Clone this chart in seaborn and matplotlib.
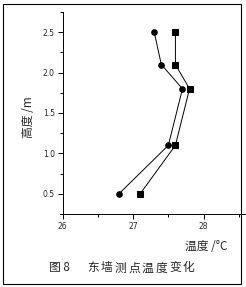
import matplotlib
matplotlib.use("Agg")
import matplotlib.pyplot as plt
import seaborn as sns
import pandas as pd
from matplotlib.patches import Rectangle
from matplotlib.ticker import MultipleLocator

heights = [0.5, 1.1, 1.8, 2.1, 2.5]
temp_circle = [26.8, 27.5, 27.7, 27.4, 27.3]
temp_square = [27.1, 27.6, 27.8, 27.6, 27.6]
series_names = ["circle", "square"]
xticks = [26, 27, 28]
yticks = [0.5, 1.0, 1.5, 2.0, 2.5]
caption_label = "图 8"
caption_title = "东墙测点温度变化"

df = pd.DataFrame({
    "height": heights * 2,
    "temp": temp_circle + temp_square,
    "series": [series_names[0]] * len(heights) + [series_names[1]] * len(heights),
})

sns.set_style("ticks")
plt.rcParams['font.family'] = ['Noto Sans CJK SC', 'DejaVu Sans']

W, H = 246, 287
fig = plt.figure(figsize=(W / 100, H / 100), dpi=100)
ax = fig.add_axes([62.5 / W, 73 / H, (W - 62.5) / W, (214 - 12) / H])

sns.lineplot(data=df, x="temp", y="height", hue="series", style="series",
             markers={"circle": "o", "square": "s"}, dashes=False,
             palette={"circle": "black", "square": "black"},
             sort=False, estimator=None, linewidth=0.7, markersize=4,
             markeredgecolor="black", legend=False, ax=ax)

ax.set_xlim(26, 28.6)
ax.set_ylim(0.25, 2.75)
ax.set_xticks(xticks)
ax.set_yticks(yticks)
ax.xaxis.set_minor_locator(MultipleLocator(0.5))
ax.yaxis.set_minor_locator(MultipleLocator(0.25))
ax.set_xticklabels([str(v) for v in xticks], fontsize=5.5, family='DejaVu Sans')
ax.set_yticklabels([f"{v:.1f}" for v in yticks], fontsize=5.5, family='DejaVu Sans')
ax.tick_params(which='both', direction='out', width=0.7, color='black', pad=2)
ax.tick_params(which='major', length=3.5)
ax.tick_params(which='minor', length=2)
ax.set_xlabel("")
ax.set_ylabel("")
for s in ["top", "right"]:
    ax.spines[s].set_visible(False)
for s in ["left", "bottom"]:
    ax.spines[s].set_linewidth(0.7)
    ax.spines[s].set_color("black")
ax.spines["left"].set_bounds(0.2, 2.75)
ax.spines["bottom"].set_bounds(25.97, 28.6)
ax.patch.set_alpha(0)

fig.text(28 / W, 1 - 117 / H, "高度 /m", rotation=90, ha='center', va='center', fontsize=8.5)
fig.text(206 / W, 1 - 247 / H, "温度 /°C", ha='center', va='center', fontsize=8.5)

# caption
fig.text(49 / W, 1 - 268 / H, caption_label, ha='left', va='center', fontsize=8.5)
for i, ch in enumerate(caption_title):
    fig.text((87 + i * 13.7) / W, 1 - 268 / H, ch, ha='left', va='center', fontsize=8.5)

fig.patches.append(Rectangle((2.5 / W, 3.5 / H), 238.5 / W, 280 / H,
                             transform=fig.transFigure, fill=False,
                             edgecolor='black', linewidth=0.8, zorder=10))

fig.savefig("out.png", dpi=100)
